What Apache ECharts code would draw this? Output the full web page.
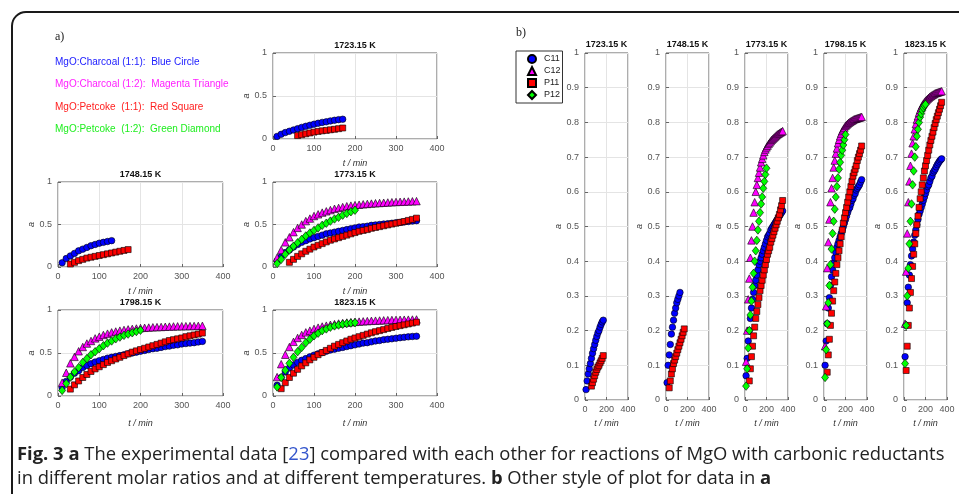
<!DOCTYPE html>
<html><head><meta charset="utf-8">
<script src="https://cdn.jsdelivr.net/npm/echarts@6/dist/echarts.min.js"></script>
<style>html,body{margin:0;padding:0;background:#fff}#c{width:959px;height:494px}</style>
</head><body><div id="c"></div>
<script>
// ---------------- DATA ----------------
const temps = ['1723.15 K','1748.15 K','1773.15 K','1798.15 K','1823.15 K'];
const times = [10,20,30,40,50,60,70,80,90,100,110,120,130,140,150,160,170,180,190,200,
               210,220,230,240,250,260,270,280,290,300,310,320,330,340,350];
const seriesNames = ['C11','C12','P11','P12'];
const legendTextA = ['MgO:Charcoal (1:1):  Blue Circle','MgO:Charcoal (1:2):  Magenta Triangle',
                     'MgO:Petcoke  (1:1):  Red Square','MgO:Petcoke  (1:2):  Green Diamond'];
const ticksA_y = [0, 0.5, 1];
const ticksB_y = [0,0.1,0.2,0.3,0.4,0.5,0.6,0.7,0.8,0.9,1];

// first sampling time of each series at each temperature (null = no data)
const C11_start = [10,10,10,10,10];
const C12_start = [null,null,10,10,10];
const P11_start = [60,30,40,30,20];
const P12_start = [null,null,10,10,10];

// C11 : MgO:Charcoal (1:1)
const C11_1723 = [0.03,0.055,0.075,0.09,0.105,0.12,0.135,0.148,0.16,0.172,0.183,0.193,0.2,0.21,0.218,0.225,0.23];
const C11_1748 = [0.05,0.1,0.13,0.16,0.19,0.21,0.23,0.25,0.265,0.28,0.29,0.3,0.31];
const C11_1773 = [0.07,0.12,0.17,0.2,0.235,0.265,0.29,0.31,0.33,0.345,0.36,0.375,0.39,0.4,0.41,0.42,0.43,0.44,0.45,0.46,
                  0.47,0.475,0.48,0.49,0.495,0.5,0.505,0.51,0.515,0.52,0.525,0.53,0.535,0.54,0.545];
const C11_1798 = [0.1,0.17,0.22,0.265,0.295,0.33,0.355,0.375,0.395,0.41,0.425,0.44,0.45,0.46,0.47,0.48,0.49,0.5,0.51,0.52,
                  0.53,0.54,0.55,0.555,0.565,0.575,0.58,0.59,0.595,0.605,0.61,0.615,0.62,0.628,0.635];
const C11_1823 = [0.125,0.215,0.28,0.325,0.36,0.39,0.415,0.435,0.455,0.475,0.49,0.505,0.52,0.535,0.545,0.555,0.565,0.575,0.585,0.595,
                  0.605,0.615,0.62,0.63,0.64,0.645,0.655,0.66,0.665,0.672,0.678,0.683,0.688,0.692,0.695];
// C12 : MgO:Charcoal (1:2)
const C12_1773 = [0.11,0.2,0.29,0.35,0.41,0.46,0.5,0.54,0.57,0.6,0.62,0.64,0.655,0.67,0.685,0.695,0.705,0.715,0.722,0.728,
                  0.733,0.738,0.742,0.746,0.75,0.753,0.756,0.759,0.762,0.765,0.767,0.769,0.771,0.773,0.775];
const C12_1798 = [0.155,0.27,0.38,0.455,0.52,0.57,0.61,0.64,0.67,0.69,0.71,0.725,0.74,0.75,0.76,0.768,0.775,0.78,0.785,0.79,
                  0.793,0.796,0.799,0.801,0.803,0.805,0.807,0.809,0.81,0.811,0.812,0.813,0.814,0.815,0.816];
const C12_1823 = [0.22,0.37,0.48,0.57,0.63,0.675,0.71,0.74,0.76,0.78,0.795,0.808,0.818,0.828,0.836,0.843,0.849,0.854,0.858,0.862,
                  0.865,0.868,0.871,0.874,0.876,0.878,0.88,0.882,0.884,0.885,0.886,0.887,0.888,0.889,0.89];
// P11 : MgO:Petcoke (1:1)
const P11_1723 = [0.04,0.05,0.06,0.07,0.08,0.088,0.095,0.1,0.107,0.113,0.12,0.128];
const P11_1748 = [0.035,0.055,0.075,0.09,0.105,0.115,0.125,0.135,0.145,0.155,0.165,0.175,0.185,0.195,0.205];
const P11_1773 = [0.055,0.09,0.125,0.155,0.185,0.21,0.235,0.255,0.275,0.295,0.315,0.33,0.345,0.36,0.375,0.39,0.405,0.42,0.43,0.44,
                  0.455,0.465,0.475,0.485,0.495,0.505,0.515,0.525,0.535,0.548,0.56,0.575];
const P11_1798 = [0.08,0.13,0.175,0.215,0.25,0.285,0.315,0.34,0.365,0.39,0.41,0.43,0.45,0.47,0.49,0.51,0.525,0.54,0.555,0.57,
                  0.585,0.6,0.615,0.63,0.645,0.655,0.665,0.675,0.69,0.7,0.71,0.72,0.732];
const P11_1823 = [0.085,0.155,0.215,0.265,0.31,0.35,0.385,0.42,0.45,0.48,0.505,0.53,0.555,0.58,0.6,0.62,0.64,0.66,0.675,0.69,
                  0.705,0.72,0.735,0.748,0.76,0.772,0.785,0.797,0.808,0.818,0.828,0.838,0.848,0.858];
// P12 : MgO:Petcoke (1:2)
const P12_1773 = [0.04,0.09,0.15,0.2,0.245,0.285,0.325,0.365,0.4,0.43,0.46,0.49,0.515,0.54,0.565,0.585,0.61,0.63,0.65,0.668];
const P12_1798 = [0.065,0.145,0.22,0.28,0.33,0.39,0.435,0.48,0.515,0.55,0.585,0.615,0.64,0.665,0.685,0.705,0.72,0.735,0.75,0.765];
const P12_1823 = [0.105,0.215,0.3,0.38,0.45,0.515,0.565,0.62,0.66,0.7,0.73,0.76,0.78,0.8,0.815,0.825,0.835,0.842,0.848,0.852];

// ---------------- BUILD ----------------
const valuesBySeries = {
  C11: [C11_1723, C11_1748, C11_1773, C11_1798, C11_1823],
  C12: [null, null, C12_1773, C12_1798, C12_1823],
  P11: [P11_1723, P11_1748, P11_1773, P11_1798, P11_1823],
  P12: [null, null, P12_1773, P12_1798, P12_1823]
};
const startsBySeries = {C11: C11_start, C12: C12_start, P11: P11_start, P12: P12_start};

function pairs(name, ti) {
  const vals = valuesBySeries[name][ti];
  if (!vals) return [];
  const s = times.indexOf(startsBySeries[name][ti]);
  return vals.map((v, i) => [times[s + i], v]);
}

const styles = {
  C11: {symbol: 'circle',   symbolSize: 6.5, color: '#0000ff'},
  C12: {symbol: 'triangle', symbolSize: 7.5, color: '#ff00ff'},
  P11: {symbol: 'rect',     symbolSize: 6,   color: '#ff0000'},
  P12: {symbol: 'diamond',  symbolSize: [7, 8.5], color: '#00ff00'}
};

// layout (panel a: 5 small plots; panel b: 5 tall plots)
const gridA = [[273,53,164,86],[58,182,165,85],[273,182,164,85],[58,310,165,86],[273,310,164,86]];
const nameGapA = [20, 20, 20, 23, 23];
const gridBLeft = [585,666,745,824,904];
const FONT = 'Liberation Sans, Arial, sans-serif';

const grids = [], xAxes = [], yAxes = [], series = [], graphics = [];

function addAxes(gi, xInterval, yInterval, yTicks, xGap) {
  xAxes.push({
    gridIndex: gi, type: 'value', min: 0, max: 400, interval: xInterval,
    name: 't / min', nameLocation: 'middle', nameGap: xGap,
    nameTextStyle: {fontStyle: 'italic', fontSize: 9, color: '#333', fontFamily: FONT},
    axisLine: {show: false},
    axisTick: {show: true, inside: true, length: 3, lineStyle: {color: '#666'}},
    axisLabel: {fontSize: 9, color: '#555', margin: 5, fontFamily: FONT},
    splitLine: {show: true, lineStyle: {color: '#e4e4e4', width: 1}}
  });
  yAxes.push({
    gridIndex: gi, type: 'value', min: 0, max: 1, interval: yInterval,
    name: 'a', nameLocation: 'middle', nameGap: 22, nameRotate: 90,
    nameTextStyle: {fontStyle: 'italic', fontSize: 9, color: '#333', fontFamily: FONT},
    axisLine: {show: false},
    axisTick: {show: true, inside: true, length: 3, lineStyle: {color: '#666'}},
    axisLabel: {fontSize: 9, color: '#555', margin: 6, fontFamily: FONT,
      formatter: v => { const t = yTicks.find(k => Math.abs(k - v) < 1e-9); return t === undefined ? '' : String(t); }},
    splitLine: {show: true, lineStyle: {color: '#e4e4e4', width: 1}}
  });
}

function addTitle(txt, cx, y) {
  graphics.push({type: 'text', x: cx, y: y, style: {text: txt, fill: '#111', font: 'bold 9px ' + FONT, textAlign: 'center', textVerticalAlign: 'middle'}});
}

// panel a
gridA.forEach((g, i) => {
  grids.push({left: g[0], top: g[1], width: g[2], height: g[3], show: true, borderColor: '#5a5a5a', borderWidth: 1, backgroundColor: '#fff'});
  addAxes(i, 100, 0.5, ticksA_y, nameGapA[i]);
  addTitle(temps[i], g[0] + g[2] / 2, g[1] - 7);
});
// panel b
gridBLeft.forEach((l, i) => {
  grids.push({left: l, top: 53, width: 43, height: 347, show: true, borderColor: '#5a5a5a', borderWidth: 1, backgroundColor: '#fff'});
  addAxes(5 + i, 200, 0.1, ticksB_y, 19);
  addTitle(temps[i], l + 21.5, 45);
});

for (let gi = 0; gi < 10; gi++) {
  const ti = gi % 5;
  seriesNames.forEach(name => {
    const d = pairs(name, ti);
    if (!d.length) return;
    const st = styles[name];
    series.push({
      type: 'scatter', name: name, xAxisIndex: gi, yAxisIndex: gi,
      symbol: st.symbol, symbolSize: st.symbolSize, data: d, silent: true,
      itemStyle: {color: st.color, borderColor: '#000', borderWidth: 0.6, opacity: 1},
      emphasis: {disabled: true}, animation: false
    });
  });
}

// frame, labels, legend of panel a, caption
graphics.push({type: 'rect', shape: {x: 12, y: 12, width: 1000, height: 600, r: 14}, style: {fill: 'none', stroke: '#1a1a1a', lineWidth: 2}, z: 100});
graphics.push({type: 'text', x: 55, y: 37, style: {text: 'a)', fill: '#222', font: '12px Liberation Serif, serif', textVerticalAlign: 'middle'}});
graphics.push({type: 'text', x: 516, y: 33, style: {text: 'b)', fill: '#222', font: '12px Liberation Serif, serif', textVerticalAlign: 'middle'}});
const legendColorsA = ['#2020ff', '#ff20ff', '#ff2020', '#20ee20'];
const legendYA = [62, 84, 107, 129];
legendTextA.forEach((t, i) => {
  graphics.push({type: 'text', x: 55, y: legendYA[i], style: {text: t, fill: legendColorsA[i], font: '10px ' + FONT, textVerticalAlign: 'middle'}});
});
const CAPSIZE = 18.4;
const CAPFONT = CAPSIZE + 'px "Open Sans", sans-serif';
graphics.push({type: 'text', x: 17, y: 455, style: {
  text: '{b|Fig. 3 a} The experimental data [{l|23}] compared with each other for reactions of MgO with carbonic reductants',
  font: CAPFONT, fill: '#222', textVerticalAlign: 'middle',
  rich: {b: {fontWeight: 'bold', fontSize: CAPSIZE, fontFamily: 'Open Sans', fill: '#222'}, l: {fill: '#3355cc', fontSize: CAPSIZE, fontFamily: 'Open Sans'}}
}});
graphics.push({type: 'text', x: 17, y: 479, style: {
  text: 'in different molar ratios and at different temperatures. {b|b} Other style of plot for data in {b|a}',
  font: CAPFONT, fill: '#222', textVerticalAlign: 'middle',
  rich: {b: {fontWeight: 'bold', fontSize: CAPSIZE, fontFamily: 'Open Sans', fill: '#222'}}
}});

const chart = echarts.init(document.getElementById('c'), null, {renderer: 'canvas'});
chart.setOption({
  animation: false,
  backgroundColor: '#fff',
  grid: grids, xAxis: xAxes, yAxis: yAxes, series: series,
  legend: {
    data: seriesNames, orient: 'vertical', left: 516, top: 51,
    itemWidth: 8, itemHeight: 8, itemGap: 2, padding: [3, 2, 3, 11],
    borderColor: '#333', borderWidth: 1, backgroundColor: '#fff',
    selectedMode: false,
    textStyle: {fontSize: 9, color: '#222', fontFamily: FONT, padding: [0, 0, 0, 3]}
  },
  graphic: graphics
});
</script></body></html>
